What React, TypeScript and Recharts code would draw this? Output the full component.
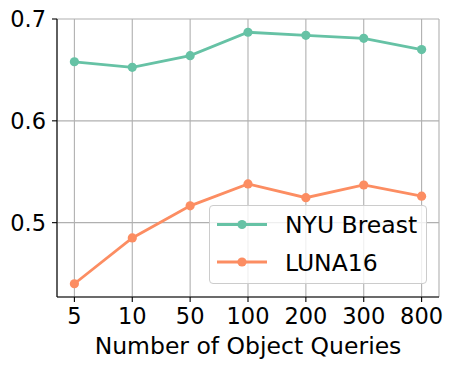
import React from 'react';
import { LineChart, Line, XAxis, YAxis, CartesianGrid } from 'recharts';

const categories = ['5', '10', '50', '100', '200', '300', '800'];
const nyuBreast = [0.658, 0.6525, 0.664, 0.687, 0.684, 0.681, 0.670];
const luna16 = [0.440, 0.485, 0.5165, 0.538, 0.5245, 0.537, 0.526];
const yTicks = [0.5, 0.6, 0.7];
const seriesNames = ['NYU Breast', 'LUNA16'];

const data = categories.map((c, i) => ({ q: c, nyu: nyuBreast[i], luna: luna16[i] }));

const FONT = '"DejaVu Sans", sans-serif';
const GREEN = '#66c2a5';
const ORANGE = '#fc8d62';
const legendItems = [
  { value: seriesNames[0], color: GREEN },
  { value: seriesNames[1], color: ORANGE },
];

const LegendBox = () => (
  <div
    style={{
      position: 'absolute',
      left: 209,
      top: 205,
      width: 218,
      height: 79,
      boxSizing: 'border-box',
      border: '1px solid #cccccc',
      borderRadius: 4,
      background: 'rgba(255,255,255,0.8)',
    }}
  >
    <svg width={216} height={77} style={{ display: 'block' }}>
      {legendItems.map((it, i) => {
        const y = 18.5 + i * 37.5;
        return (
          <g key={it.value}>
            <line x1={7} x2={57} y1={y} y2={y} stroke={it.color} strokeWidth={2.8} />
            <circle cx={32} cy={y} r={4.6} fill={it.color} />
            <text x={75} y={y + 8.8} fontSize={23.5} fontFamily={FONT} fill="#000">
              {it.value}
            </text>
          </g>
        );
      })}
    </svg>
  </div>
);

const xLabel = (props: any) => {
  const vb = props.viewBox || {};
  return (
    <text
      x={vb.x + vb.width / 2}
      y={vb.y + 56.5}
      textAnchor="middle"
      fontSize={23.5}
      fontFamily={FONT}
      fill="#000"
    >
      Number of Object Queries
    </text>
  );
};

export default function App() {
  return (
    <div style={{ position: 'absolute', left: 0, top: 0, width: 454, height: 369 }}>
      <LineChart
        width={454}
        height={369}
        data={data}
        margin={{ top: 19, right: 15, bottom: 0, left: 0 }}
      >
        <CartesianGrid stroke="#b0b0b0" strokeWidth={1.1} />
        <XAxis
          dataKey="q"
          type="category"
          scale="point"
          padding={{ left: 17.4, right: 17.4 }}
          height={72}
          tickSize={5}
          tickMargin={6}
          tickLine={{ stroke: '#000', strokeWidth: 1.1 }}
          axisLine={{ stroke: '#000', strokeWidth: 1.1 }}
          tick={{ fill: '#000', fontSize: 22.5, fontFamily: FONT }}
          interval={0}
          label={xLabel}
        />
        <XAxis
          xAxisId="top"
          orientation="top"
          dataKey="q"
          type="category"
          scale="point"
          padding={{ left: 17.4, right: 17.4 }}
          height={0}
          tick={false}
          tickLine={false}
          axisLine={{ stroke: '#000', strokeWidth: 1.1 }}
        />
        <YAxis
          type="number"
          domain={[0.427, 0.7]}
          ticks={yTicks}
          allowDataOverflow
          width={57}
          tickSize={5}
          tickMargin={6}
          tickLine={{ stroke: '#000', strokeWidth: 1.1 }}
          axisLine={{ stroke: '#000', strokeWidth: 1.1 }}
          tick={{ fill: '#000', fontSize: 22.5, fontFamily: FONT }}
          tickFormatter={(v: number) => v.toFixed(1)}
        />
        <YAxis
          yAxisId="right"
          orientation="right"
          type="number"
          domain={[0.427, 0.7]}
          width={0}
          tick={false}
          tickLine={false}
          axisLine={{ stroke: '#000', strokeWidth: 1.1 }}
        />
        <Line
          type="linear"
          dataKey="nyu"
          name={seriesNames[0]}
          stroke={GREEN}
          strokeWidth={2.8}
          dot={{ r: 4.6, fill: GREEN, stroke: GREEN, strokeWidth: 0 }}
          activeDot={false}
          isAnimationActive={false}
        />
        <Line
          type="linear"
          dataKey="luna"
          name={seriesNames[1]}
          stroke={ORANGE}
          strokeWidth={2.8}
          dot={{ r: 4.6, fill: ORANGE, stroke: ORANGE, strokeWidth: 0 }}
          activeDot={false}
          isAnimationActive={false}
        />
      </LineChart>
      <LegendBox />
    </div>
  );
}
